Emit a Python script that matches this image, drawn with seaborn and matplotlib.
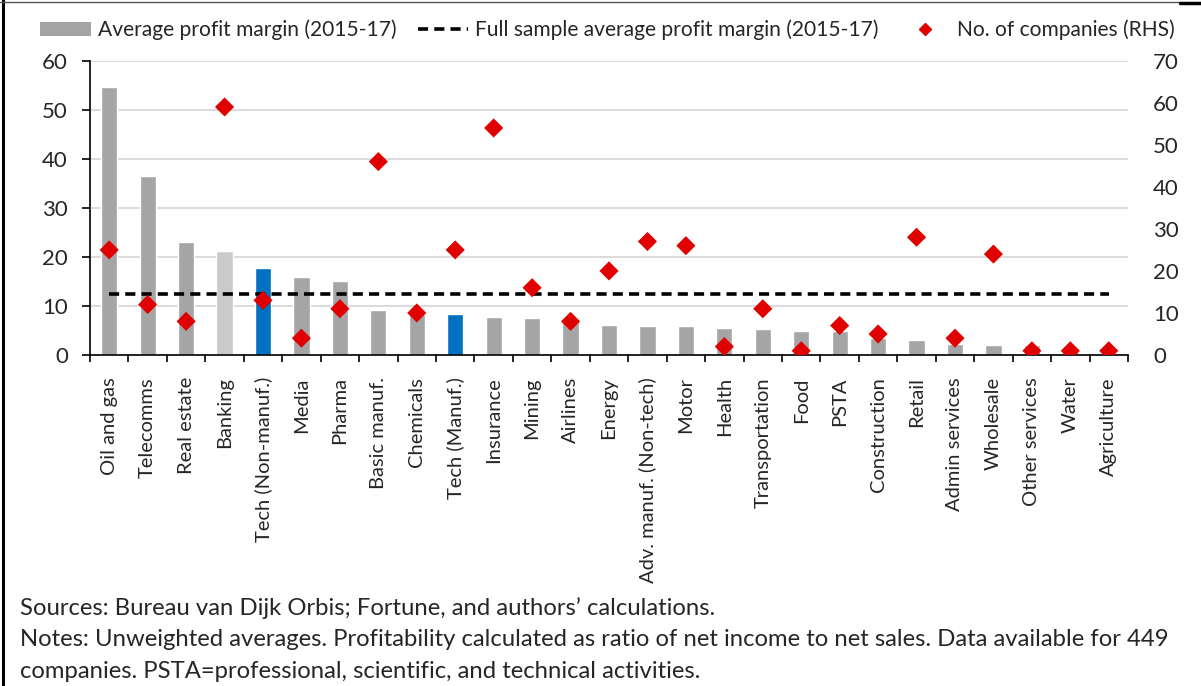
import numpy as np
import pandas as pd
import matplotlib
matplotlib.use("Agg")
import matplotlib.pyplot as plt
import seaborn as sns
from matplotlib.lines import Line2D
from matplotlib.patches import Patch
from matplotlib.ticker import FixedLocator, MultipleLocator

# données
sectors = ["Oil and gas", "Telecomms", "Real estate", "Banking", "Tech (Non-manuf.)",
           "Media", "Pharma", "Basic manuf.", "Chemicals", "Tech (Manuf.)", "Insurance",
           "Mining", "Airlines", "Energy", "Adv. manuf. (Non-tech)", "Motor", "Health",
           "Transportation", "Food", "PSTA", "Construction", "Retail", "Admin services",
           "Wholesale", "Other services", "Water", "Agriculture"]
profit_margin = [54.7, 36.4, 23.1, 21.2, 17.8, 15.9, 15.1, 9.2, 8.3, 8.4, 7.8,
                 7.5, 7.1, 6.1, 5.9, 5.9, 5.6, 5.3, 4.8, 4.8, 3.4, 3.1, 2.2,
                 2.0, 2.0, 1.4, 0.3]
n_companies = [25, 12, 8, 59, 13, 4, 11, 46, 10, 25, 54, 16, 8, 20, 27, 26, 2,
               11, 1, 7, 5, 28, 4, 24, 1, 1, 1]
full_sample_avg = 12.4

grey, light_grey, blue, red = "#A5A5A5", "#CACACA", "#0070C0", "#E00000"
palette = {s: grey for s in sectors}
palette["Banking"] = light_grey
palette["Tech (Non-manuf.)"] = blue
palette["Tech (Manuf.)"] = blue

df = pd.DataFrame({"sector": sectors, "margin": profit_margin, "companies": n_companies})
n = len(sectors)

sns.set_style("white")
plt.rcParams["font.family"] = ["Lato", "DejaVu Sans"]

fig = plt.figure(figsize=(12.01, 6.86), dpi=100)
ax = fig.add_axes([90 / 1201, 1 - 355 / 686, (1128 - 90) / 1201, (355 - 60.7) / 686])

sns.barplot(data=df, x="sector", y="margin", hue="sector", palette=palette,
            saturation=1, width=0.42, legend=False, ax=ax)
ax.plot([0, n - 1], [full_sample_avg, full_sample_avg], color="black", lw=2.6,
        dashes=(2.8, 1.7), zorder=3)

ax.set_ylim(0, 60)
ax.set_xlim(-0.5, n - 0.5)
ax.yaxis.set_major_locator(MultipleLocator(10))
ax.set_axisbelow(True)
ax.grid(axis="y", color="#D9D9D9", lw=1.3)
ax.grid(axis="x", visible=False)
ax.set_xlabel("")
ax.set_ylabel("")
for side in ["top", "right"]:
    ax.spines[side].set_visible(False)
for side in ["left", "bottom"]:
    ax.spines[side].set_color("black")
    ax.spines[side].set_linewidth(1.2)
ax.set_xticks(range(n))
ax.set_xticklabels(sectors, rotation=90, fontsize=14.5, va="top", ha="center")
ax.xaxis.set_minor_locator(FixedLocator(np.arange(-0.5, n, 1)))
ax.tick_params(axis="x", which="major", length=0, pad=16)
ax.tick_params(axis="x", which="minor", length=5, width=1.2, color="black", direction="out", bottom=True)
ax.tick_params(axis="y", length=6, width=1.2, color="black", direction="out", left=True,
               labelsize=16, pad=10)

# axe de droite : nombre d'entreprises
ax2 = ax.twinx()
sns.scatterplot(x=np.arange(n), y=n_companies, marker="D", color=red, s=95,
                edgecolor="none", ax=ax2, zorder=4)
ax2.set_ylim(0, 70)
ax2.yaxis.set_major_locator(MultipleLocator(10))
ax2.set_xlim(-0.5, n - 0.5)
for side in ax2.spines:
    ax2.spines[side].set_visible(False)
ax2.tick_params(axis="y", length=0, labelsize=16, pad=18)
ax2.grid(False)

handles = [Patch(facecolor=grey, edgecolor="none"),
           Line2D([], [], color="black", lw=2.6, dashes=(2.8, 1.7)),
           Line2D([], [], color=red, marker="D", ls="none", markersize=6)]
labels = ["Average profit margin (2015-17)", "Full sample average profit margin (2015-17)",
          "No. of companies (RHS)"]
fig.legend(handles, labels, loc="center", bbox_to_anchor=(0.506, 1 - 30 / 686), ncol=3,
           frameon=False, fontsize=15.1, handlelength=2.4, handletextpad=0.35,
           columnspacing=1.0)

notes = ["Sources: Bureau van Dijk Orbis; Fortune, and authors\u2019 calculations.",
         "Notes: Unweighted averages. Profitability calculated as ratio of net income to net sales. Data available for 449",
         "companies. PSTA=professional, scientific, and technical activities."]
for i, line in enumerate(notes):
    fig.text(20 / 1201, 1 - (608 + 32 * i) / 686, line, fontsize=17.2, va="center", ha="left")

# cadre
fig.add_artist(Line2D([3 / 1201, 3 / 1201], [0, 1], color="black", lw=2.2))
fig.add_artist(Line2D([0, 1180 / 1201], [1 - 2 / 686, 1 - 2 / 686], color="#555555", lw=1))
fig.add_artist(Line2D([1180 / 1201, 1], [1 - 3 / 686, 1 - 3 / 686], color="black", lw=2.5))

fig.savefig("out.png", dpi=100)
